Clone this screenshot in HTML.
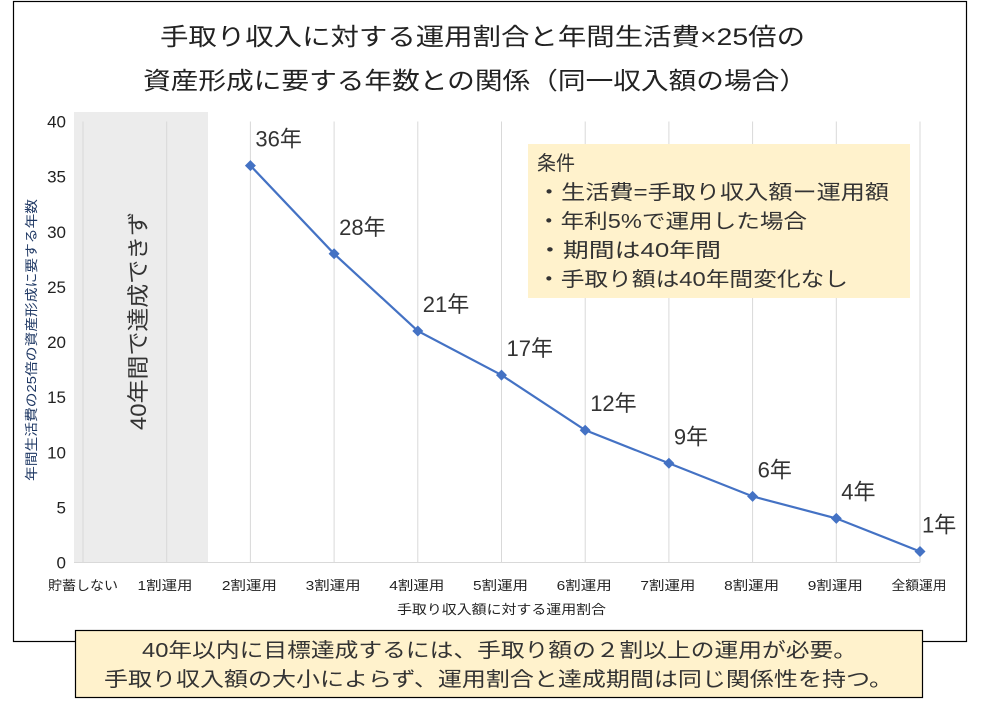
<!DOCTYPE html>
<html><head><meta charset="utf-8"><style>
body{margin:0;background:#fff;}
svg{display:block;font-family:"Liberation Sans","Noto Sans CJK JP",sans-serif;}
</style></head><body>
<svg id="c" width="997" height="708" viewBox="0 0 997 708">
<rect x="13.5" y="1.5" width="953" height="640" fill="#fff" stroke="#000" stroke-width="1.2"/>
<text x="160" y="45" font-size="24" textLength="645" lengthAdjust="spacingAndGlyphs" fill="#222">手取り収入に対する運用割合と年間生活費×25倍の</text>
<text x="143" y="89" font-size="24" textLength="664" lengthAdjust="spacingAndGlyphs" fill="#222">資産形成に要する年数との関係（同一収入額の場合）</text>
<rect x="74" y="112" width="134" height="450" fill="#ececec"/>
<g id="grid"></g>
<text transform="translate(146,430) rotate(-90)" font-size="22" textLength="218" lengthAdjust="spacingAndGlyphs" fill="#333">40年間で達成できず</text>
<text transform="translate(36,481) rotate(-90)" font-size="13" textLength="282" lengthAdjust="spacingAndGlyphs" fill="#1f3864">年間生活費の25倍の資産形成に要する年数</text>
<text x="397" y="614" font-size="13" textLength="209" lengthAdjust="spacingAndGlyphs" fill="#222">手取り収入額に対する運用割合</text>
<g>
<rect x="528" y="144" width="382" height="154" fill="#fff2cc"/>
<text x="537" y="170" font-size="20" textLength="38" lengthAdjust="spacingAndGlyphs" fill="#333">条件</text>
<text x="537" y="199" font-size="20" textLength="352" lengthAdjust="spacingAndGlyphs" fill="#333">・生活費=手取り収入額ー運用額</text>
<text x="537" y="228" font-size="20" textLength="270" lengthAdjust="spacingAndGlyphs" fill="#333">・年利5%で運用した場合</text>
<text x="537" y="257" font-size="20" textLength="184" lengthAdjust="spacingAndGlyphs" fill="#333">・期間は40年間</text>
<text x="537" y="286" font-size="20" textLength="311" lengthAdjust="spacingAndGlyphs" fill="#333">・手取り額は40年間変化なし</text>
</g>
<g id="marks"></g>
<g>
<rect x="75.5" y="630.5" width="847" height="67" fill="#fff2cc" stroke="#000" stroke-width="1.2"/>
<text x="142" y="657" font-size="20" textLength="715" lengthAdjust="spacingAndGlyphs" fill="#333">40年以内に目標達成するには、手取り額の２割以上の運用が必要。</text>
<text x="104" y="686" font-size="20" textLength="789" lengthAdjust="spacingAndGlyphs" fill="#333">手取り収入額の大小によらず、運用割合と達成期間は同じ関係性を持つ。</text>
</g>
</svg>
<script>
const categories=["貯蓄しない","1割運用","2割運用","3割運用","4割運用","5割運用","6割運用","7割運用","8割運用","9割運用","全額運用"];
const years=[null,null,36,28,21,17,12,9,6,4,1];
const yTicks=[0,5,10,15,20,25,30,35,40];
const NS="http://www.w3.org/2000/svg";
const X=i=>83+83.7*i, Y=v=>562.5-v*11.025;
const g=document.getElementById('grid'), m=document.getElementById('marks');
function el(t,a,p){const e=document.createElementNS(NS,t);for(const k in a)e.setAttribute(k,a[k]);p.appendChild(e);return e;}
categories.forEach((c,i)=>{
 const l=el('line',{x1:X(i),x2:X(i),y1:Y(40),y2:Y(0),stroke:'#d9d9d9'},g);
 
 
 const w=c.length*14+(i==0?0:-1);
 const cx=i==0?83:(i==1?165:X(i)-1);
 const t=el('text',{x:cx-w/2,y:590,'font-size':13,textLength:w,lengthAdjust:'spacingAndGlyphs',fill:'#222'},g);
 t.textContent=c;
 
 
});
const ax=el('line',{x1:74,x2:X(10),y1:Y(0),y2:Y(0),stroke:'#d9d9d9'},g);


yTicks.forEach(v=>{
 const t=el('text',{x:66,y:Y(v)+6,'font-size':17,'text-anchor':'end',fill:'#222'},g);
 t.textContent=v;
 
 
});
let pts=[];years.forEach((v,i)=>{if(v!=null)pts.push(X(i)+','+Y(v));});
const pl=el('polyline',{points:pts.join(' '),fill:'none',stroke:'#4472c4','stroke-width':2.2},m);


years.forEach((v,i)=>{if(v==null)return;
 const x=X(i),y=Y(v);
 const d=el('path',{d:`M${x} ${y-5.5}L${x+5.5} ${y}L${x} ${y+5.5}L${x-5.5} ${y}Z`,fill:'#4472c4'},m);
 
 
 const t=el('text',{x:x+(i==10?2:5),y:y-19,'font-size':22,fill:'#333'},m);
 t.textContent=v+'年';
 
 
});
</script>
</body></html>
